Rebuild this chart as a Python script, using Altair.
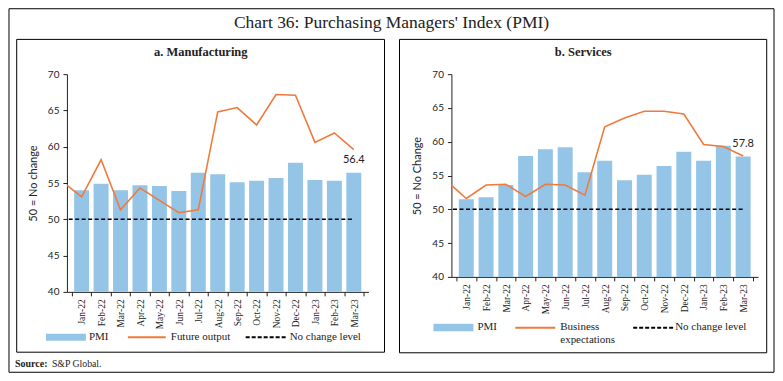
import altair as alt
import pandas as pd

# ---------------- data ----------------
MONTHS = ["Jan-22", "Feb-22", "Mar-22", "Apr-22", "May-22", "Jun-22", "Jul-22", "Aug-22",
          "Sep-22", "Oct-22", "Nov-22", "Dec-22", "Jan-23", "Feb-23", "Mar-23"]
LEAD_MONTH = "Dec-21"  # lead-in point of the line series (clipped at the left edge)

MFG_PMI = [54.0, 54.9, 54.0, 54.7, 54.6, 53.9, 56.4, 56.2, 55.1, 55.3, 55.7, 57.8, 55.4, 55.3, 56.4]
MFG_FUTURE = [55.2, 53.1, 58.2, 51.3, 54.3, 52.6, 50.9, 51.3, 64.8, 65.4, 63.0, 67.2, 67.1, 60.6, 61.9, 59.6]

SVC_PMI = [51.5, 51.8, 53.6, 57.9, 58.9, 59.2, 55.5, 57.2, 54.3, 55.1, 56.4, 58.5, 57.2, 59.4, 57.8]
SVC_EXPECT = [54.2, 51.6, 53.6, 53.7, 51.9, 53.7, 53.6, 52.1, 62.2, 63.5, 64.5, 64.5, 64.1, 59.6, 59.3, 57.9]

NO_CHANGE = 50
Y_TICKS = [40, 45, 50, 55, 60, 65, 70]

TITLE = "Chart 36: Purchasing Managers' Index (PMI)"
PANEL_TITLES = ["a. Manufacturing", "b. Services"]
Y_TITLES = ["50 = No change", "50 = No Change"]
LEGEND_PMI = "PMI"
LEGEND_LINES = ["Future output", "Business\nexpectations"]
LEGEND_RULE = "No change level"
SOURCE_BOLD = "Source:"
SOURCE_TEXT = "S&P Global."

# ---------------- style ----------------
BLUE = "#95C5E6"
ORANGE = "#F07A3C"
SERIF = "Liberation Serif"
SANS = "Lato"
INK = "#222222"


def txt(s, x, y, size, font=SERIF, weight="normal", align="left", baseline="middle"):
    return alt.Chart(pd.DataFrame({"t": [s]})).mark_text(
        align=align, baseline=baseline, fontSize=size, font=font, fontWeight=weight,
        color=INK, lineBreak="\n", lineHeight=13
    ).encode(x=alt.value(x), y=alt.value(y), text="t:N")


def box(x0, x1, y0, y1, width=1.0):
    return alt.Chart(pd.DataFrame({"k": [0]})).mark_rect(
        fillOpacity=0, stroke="black", strokeWidth=width
    ).encode(x=alt.value(x0), x2=alt.value(x1), y=alt.value(y0), y2=alt.value(y1))


def swatch_rect(x0, x1, y0, y1):
    return alt.Chart(pd.DataFrame({"k": [0]})).mark_rect(color=BLUE).encode(
        x=alt.value(x0), x2=alt.value(x1), y=alt.value(y0), y2=alt.value(y1))


def swatch_rule(x0, x1, y, color, dash=None, width=2):
    kw = dict(color=color, strokeWidth=width)
    if dash:
        kw["strokeDash"] = dash
    return alt.Chart(pd.DataFrame({"k": [0]})).mark_rule(**kw).encode(
        x=alt.value(x0), x2=alt.value(x1), y=alt.value(y))


label_array = "[" + ",".join("'" + m + "'" for m in MONTHS) + "]"
LABEL_EXPR = f"datum.value < {len(MONTHS)} ? {label_array}[round(datum.value - 0.5)] : ''"


def panel(pmi, linev, W, H, ytitle, ptitle, lg, extra):
    step = W / len(MONTHS)
    n = len(MONTHS)
    bars_df = pd.DataFrame({"idx": list(range(1, n + 1)), "month": MONTHS, "v": pmi})
    line_df = pd.DataFrame({"idx": list(range(0, n + 1)), "month": [LEAD_MONTH] + MONTHS, "v": linev})
    rule_df = pd.DataFrame({"idx": [0], "idx2": [n], "v": [NO_CHANGE]})
    lab_df = pd.DataFrame({"idx": [n], "v": [pmi[-1]], "t": [f"{pmi[-1]:.1f}"]})

    xscale = alt.Scale(domain=[0.5, n + 0.5], nice=False, zero=False)
    xaxis = alt.Axis(values=[i + 0.5 for i in range(n + 1)], labelExpr=LABEL_EXPR,
                     labelAngle=270, labelOffset=step / 2, labelFlush=False,
                     labelOverlap=False, labelFont=SERIF, labelFontSize=9.5,
                     labelColor=INK, labelPadding=3, tickSize=4, tickColor=INK,
                     domainColor=INK, grid=False, title=None)
    x = alt.X("idx:Q", scale=xscale, axis=xaxis)
    yscale = alt.Scale(domain=[40, 70], nice=False, zero=False)
    yaxis = alt.Axis(values=Y_TICKS, title=ytitle, titleFont=SANS, titleFontSize=11,
                     titleFontWeight="normal", titleColor=INK, titlePadding=9,
                     labelFont=SANS, labelFontSize=10, labelColor=INK, labelPadding=4,
                     tickSize=4, tickColor=INK, domainColor=INK, grid=False)
    y = alt.Y("v:Q", scale=yscale, axis=yaxis)

    bars = alt.Chart(bars_df).mark_bar(size=15, color=BLUE, clip=True).encode(x=x, y=y)
    rule = alt.Chart(rule_df).mark_rule(color="black", strokeWidth=1.6, strokeDash=[4, 2.5],
                                        clip=True).encode(x=x, x2="idx2:Q", y=y)
    line = alt.Chart(line_df).mark_line(color=ORANGE, strokeWidth=1.6, clip=True).encode(x=x, y=y)
    lab = alt.Chart(lab_df).mark_text(font=SANS, fontSize=11, color=INK, dy=-12.5).encode(
        x=x, y=y, text="t:N")

    layers = extra + [
        box(*lg["box"]),
        txt(ptitle, lg["ptitle"][0], lg["ptitle"][1], 12.5, weight="bold", align="center"),
        bars, rule, line, lab,
        swatch_rect(*lg["rect"]),
        txt(LEGEND_PMI, lg["pmi"][0], lg["pmi"][1], 11),
        swatch_rule(lg["oline"][0], lg["oline"][1], lg["oline"][2], ORANGE),
        txt(lg["line_label"], lg["ltext"][0], lg["ltext"][1], 11, baseline=lg.get("lbase", "middle")),
        swatch_rule(lg["dline"][0], lg["dline"][1], lg["dline"][2], "black", dash=[4, 2], width=2),
        txt(LEGEND_RULE, lg["rtext"][0], lg["rtext"][1], 11),
    ]
    return alt.layer(*layers).properties(width=W, height=H)


# left panel (coordinates relative to its plot origin)
W1, H1 = 302, 218
left_extra = [
    box(-58, 708, -65.5, 298.5),
    txt(TITLE, 325, -51.5, 17.5, align="center"),
    txt(SOURCE_BOLD, -52, 290, 10, weight="bold"),
    txt(SOURCE_TEXT, -15, 290, 9.8),
]
left = panel(MFG_PMI, MFG_FUTURE, W1, H1, Y_TITLES[0], PANEL_TITLES[0], {
    "box": (-50.3, 318, -34.8, 278.4),
    "ptitle": (134, -22.5),
    "rect": (-21, 19, 260, 267),
    "pmi": (22, 263.5),
    "oline": (61, 99, 263.5),
    "line_label": LEGEND_LINES[0],
    "ltext": (104, 263.5),
    "dline": (179, 221, 263.5),
    "rtext": (223, 263.5),
}, left_extra)

W2, H2 = 307, 203
right = panel(SVC_PMI, SVC_EXPECT, W2, H2, Y_TITLES[1], PANEL_TITLES[1], {
    "box": (-52, 315.7, -34.8, 279),
    "ptitle": (132, -22.5),
    "rect": (-18, 22, 250, 257.5),
    "pmi": (26, 253.5),
    "oline": (64, 104, 254),
    "line_label": LEGEND_LINES[1],
    "ltext": (109, 247.5),
    "lbase": "top",
    "dline": (182, 222, 254),
    "rtext": (224, 253.5),
}, [])

chart = alt.hconcat(left, right, spacing=83, bounds="flush").properties(
    padding=0, background="white"
).configure_view(stroke=None)

chart.save("out.html", embed_options={"renderer": "svg", "actions": False})
